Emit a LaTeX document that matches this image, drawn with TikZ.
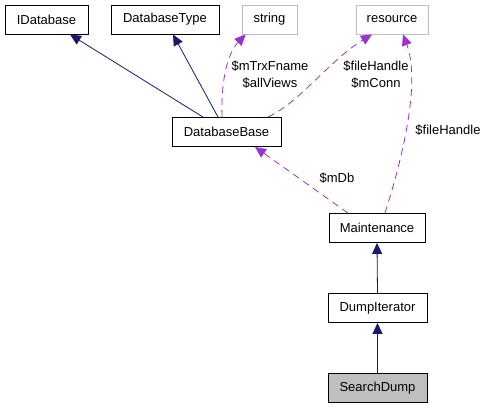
\documentclass[tikz,border=0pt]{standalone}
\usepackage{fontspec}
\setmainfont{Liberation Sans}
\usetikzlibrary{arrows.meta}

\definecolor{navyline}{RGB}{25,25,112}
\definecolor{usedline}{RGB}{154,50,205}
\definecolor{greybox}{RGB}{191,191,191}

\tikzset{
  cls/.style={draw=black,line width=0.9pt,inner sep=0pt,minimum height=29pt,font=\fontsize{13}{17}\selectfont},
  extcls/.style={cls,draw=greybox},
  inherit/.style={draw=navyline,line width=0.8pt,-{Triangle[length=11pt,width=10pt]}},
  uses/.style={draw=usedline,line width=0.8pt,dash pattern=on 7pt off 5pt,-{Triangle[length=11pt,width=10pt]}},
  lbl/.style={align=center,inner sep=0pt,font=\fontsize{13}{17}\selectfont}
}

\begin{document}
\begin{tikzpicture}[x=1pt,y=-1pt,line cap=butt,line join=miter]
% collaboration graph of SearchDump

\useasboundingbox (0,0) rectangle (485,408);

% classes
\node[cls,minimum width=83pt] (idb) at (46.5,19.5) {IDatabase};
\node[cls,minimum width=108pt] (dbtype) at (165,19.5) {DatabaseType};
\node[extcls,minimum width=55pt] (str) at (269.5,19.5) {string};
\node[extcls,minimum width=72pt] (res) at (392,19.5) {resource};
\node[cls,minimum width=109pt] (dbbase) at (226.5,132) {DatabaseBase};
\node[cls,minimum width=96pt] (maint) at (377,228) {Maintenance};
\node[cls,minimum width=99pt] (dumpit) at (377.5,308) {DumpIterator};
\node[cls,minimum width=99pt,fill=greybox] (search) at (377.5,388) {SearchDump};

% inheritance
\draw[inherit] ([xshift=-23.5pt]dbbase.north) -- ([xshift=23.5pt]idb.south);
\draw[inherit] ([xshift=-8.5pt]dbbase.north) -- ([xshift=8pt]dbtype.south);
\draw[inherit] (dumpit.north) -- (maint.south);
\draw[inherit] (search.north) -- (dumpit.south);

% usage
\draw[uses] ([xshift=-4.5pt]dbbase.north) .. controls (221,85) and (226,55) .. ([xshift=4pt]str.south west);
\draw[uses] ([xshift=41.5pt]dbbase.north) .. controls (300,102) and (330,60) .. ([xshift=-20pt]res.south);
\draw[uses] ([xshift=8pt]maint.north) .. controls (405,150) and (420,80) .. ([xshift=11pt]res.south);
\draw[uses] ([xshift=-29pt]maint.north) -- ([xshift=28.5pt]dbbase.south);

% member names
\node[lbl] (lstr) at (270,74.5) {\$mTrxFname\\\$allViews};
\node[lbl] (lres) at (376,74.5) {\$fileHandle\\\$mConn};
\node[lbl] (lfile) at (448,130) {\$fileHandle};
\node[lbl] (ldb) at (337,178) {\$mDb};

\end{tikzpicture}
\end{document}
